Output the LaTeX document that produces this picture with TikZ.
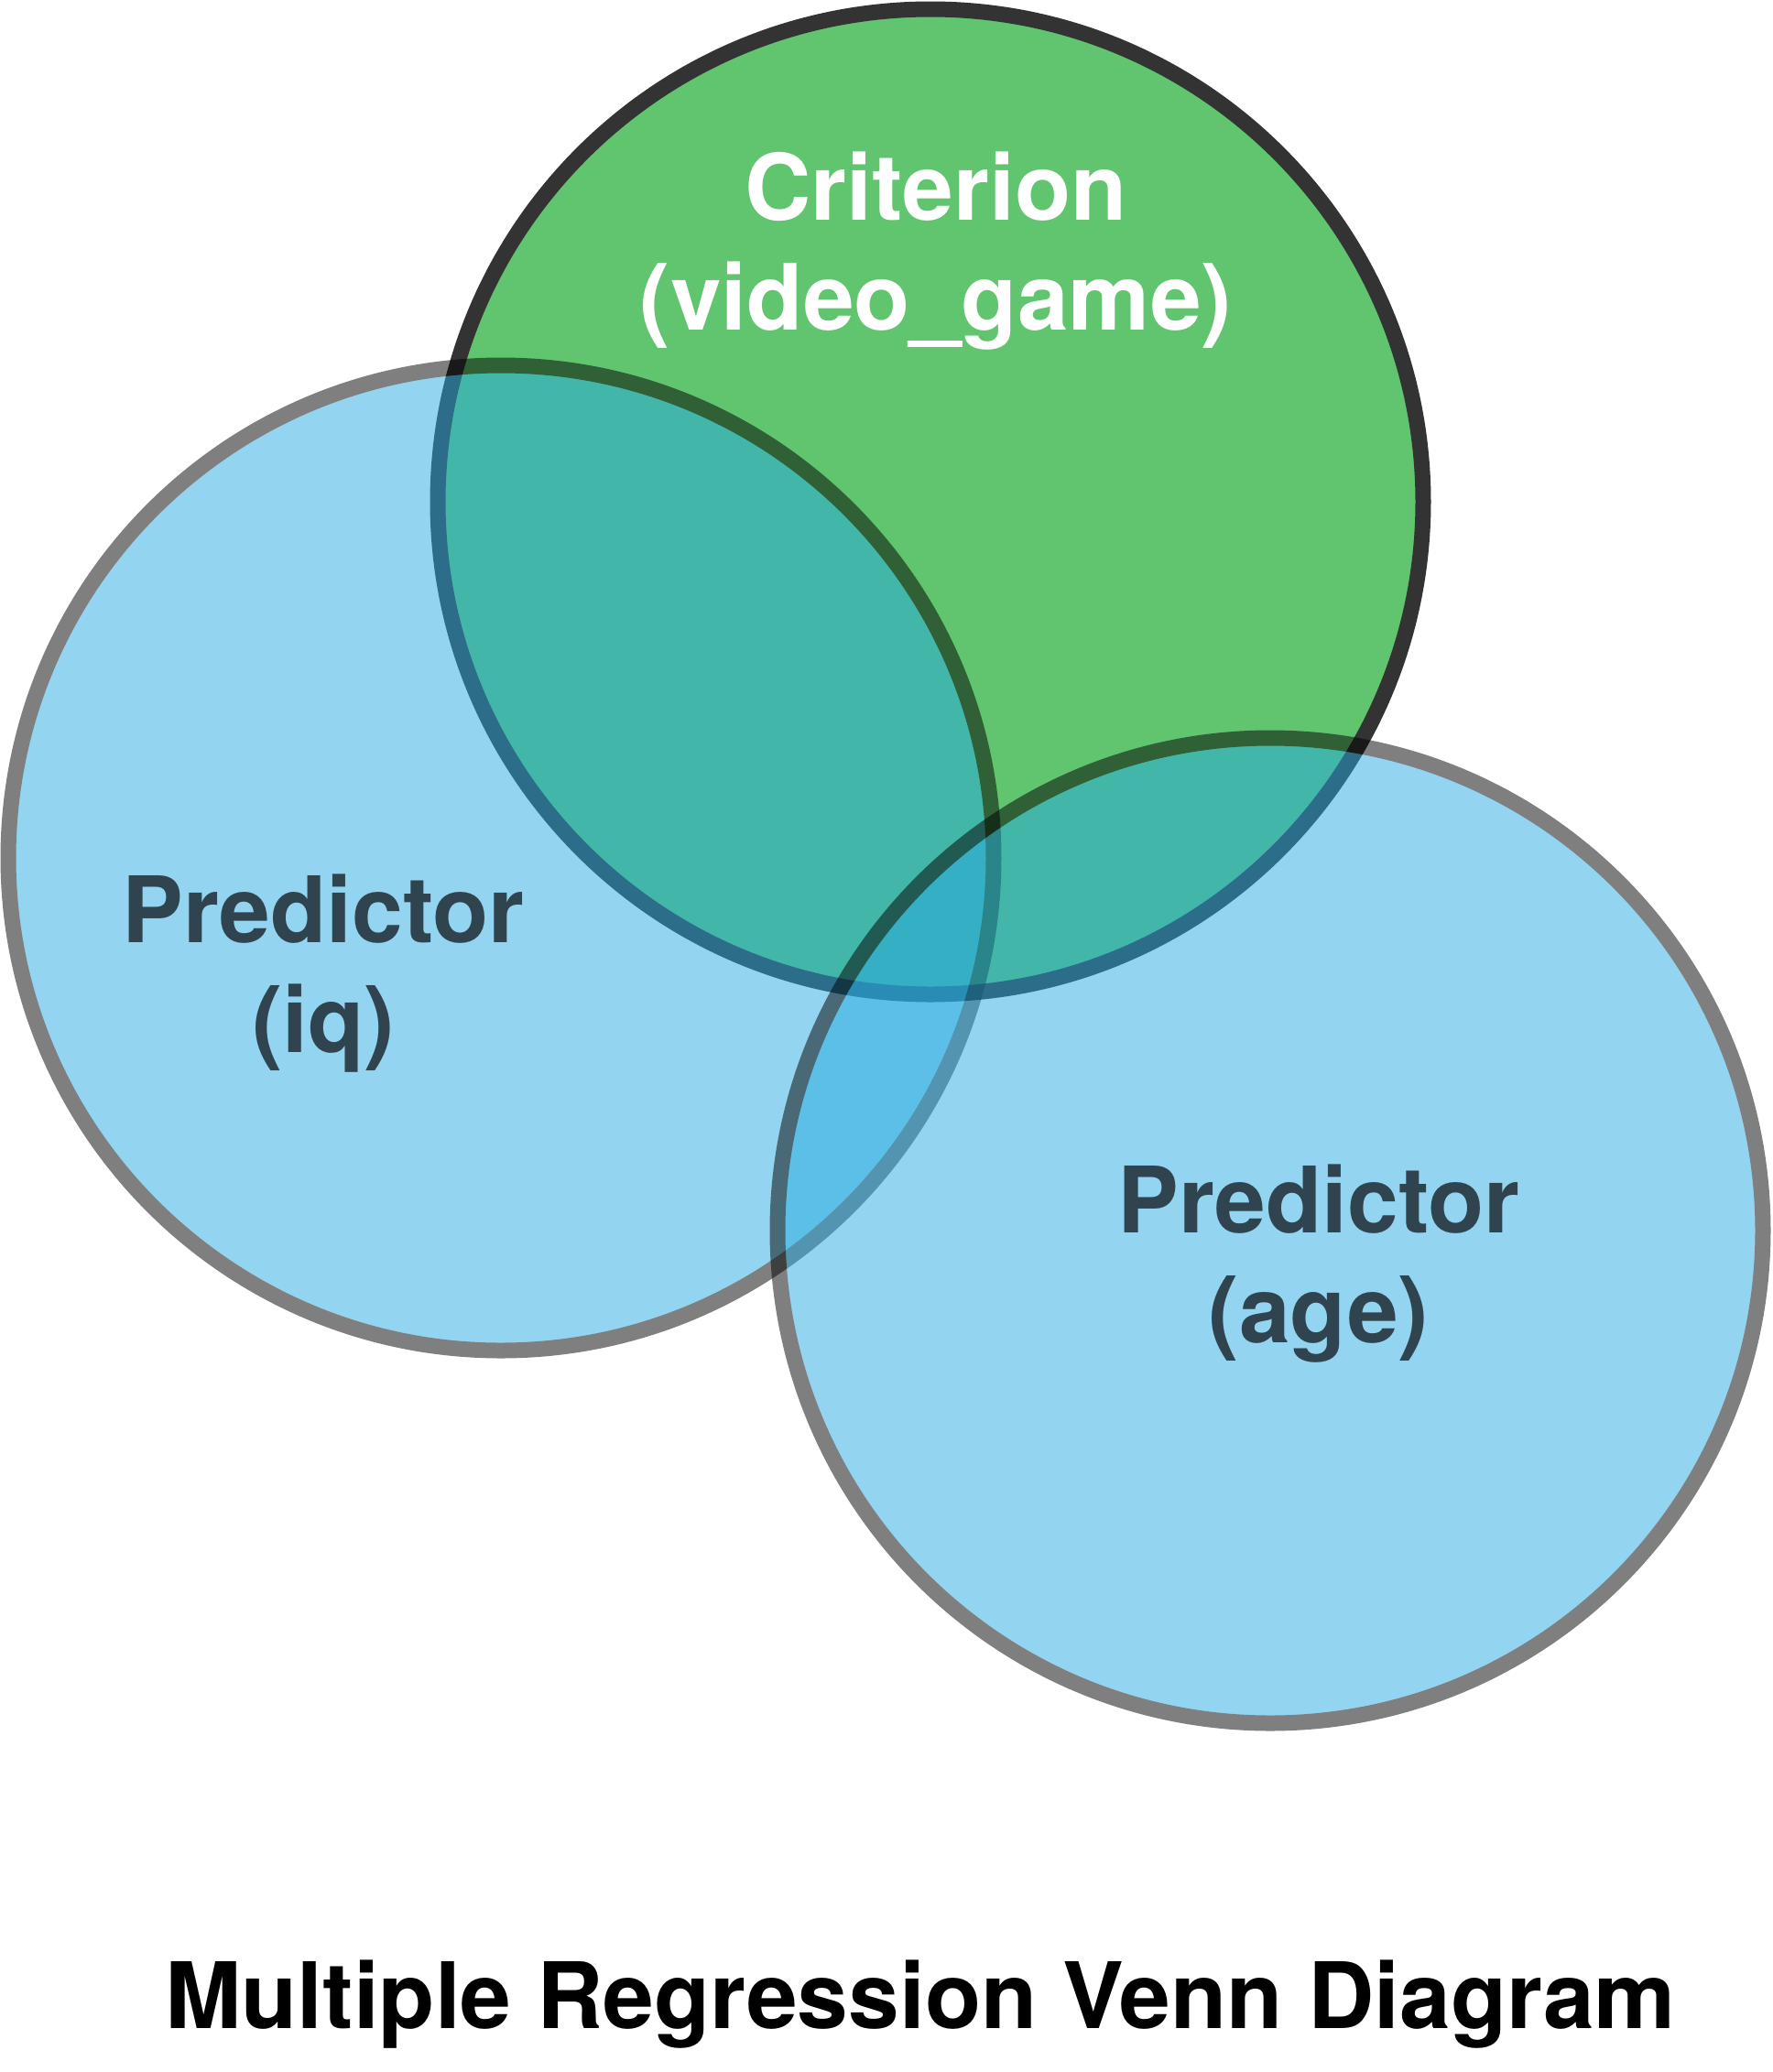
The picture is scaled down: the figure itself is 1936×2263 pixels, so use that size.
\documentclass[tikz,border=0pt]{standalone}
\usepackage{fontspec}
\setmainfont{TeX Gyre Heros}
\definecolor{critgreen}{RGB}{57,181,74}
\definecolor{predblue}{RGB}{39,170,225}
\definecolor{predtext}{RGB}{48,68,80}

\begin{document}
\begin{tikzpicture}[x=0.1mm,y=-0.1mm,
            set/.style={circle,draw=black,line width=1.7mm,inner sep=0pt,minimum size=107.6mm},
            label/.style={align=center,anchor=base,font=\bfseries\fontsize{28.5}{34}\selectfont}]
            \useasboundingbox (0,0) rectangle (1936,2263);
            % criterion first, predictors laid over it
            \begin{scope}[transparency group,opacity=0.8]
                \node[set,fill=critgreen] (crit) at (1016,548) {};
            \end{scope}
            \begin{scope}[transparency group,opacity=0.5]
                \node[set,fill=predblue] (iq) at (547,937) {};
            \end{scope}
            \begin{scope}[transparency group,opacity=0.5]
                \node[set,fill=predblue] (age) at (1387,1344) {};
            \end{scope}
            % base = baseline of the last line
            \node[label,text=white] (critlabel) at (1022,360) {Criterion\\(video\_game)};
            \node[label,text=predtext] (iqlabel) at (353,1149) {Predictor\\(iq)};
            \node[label,text=predtext] (agelabel) at (1440,1466) {Predictor\\(age)};
            \node[label,text=black] (title) at (1005,2215) {Multiple Regression Venn Diagram};
        \end{tikzpicture}
\end{document}
